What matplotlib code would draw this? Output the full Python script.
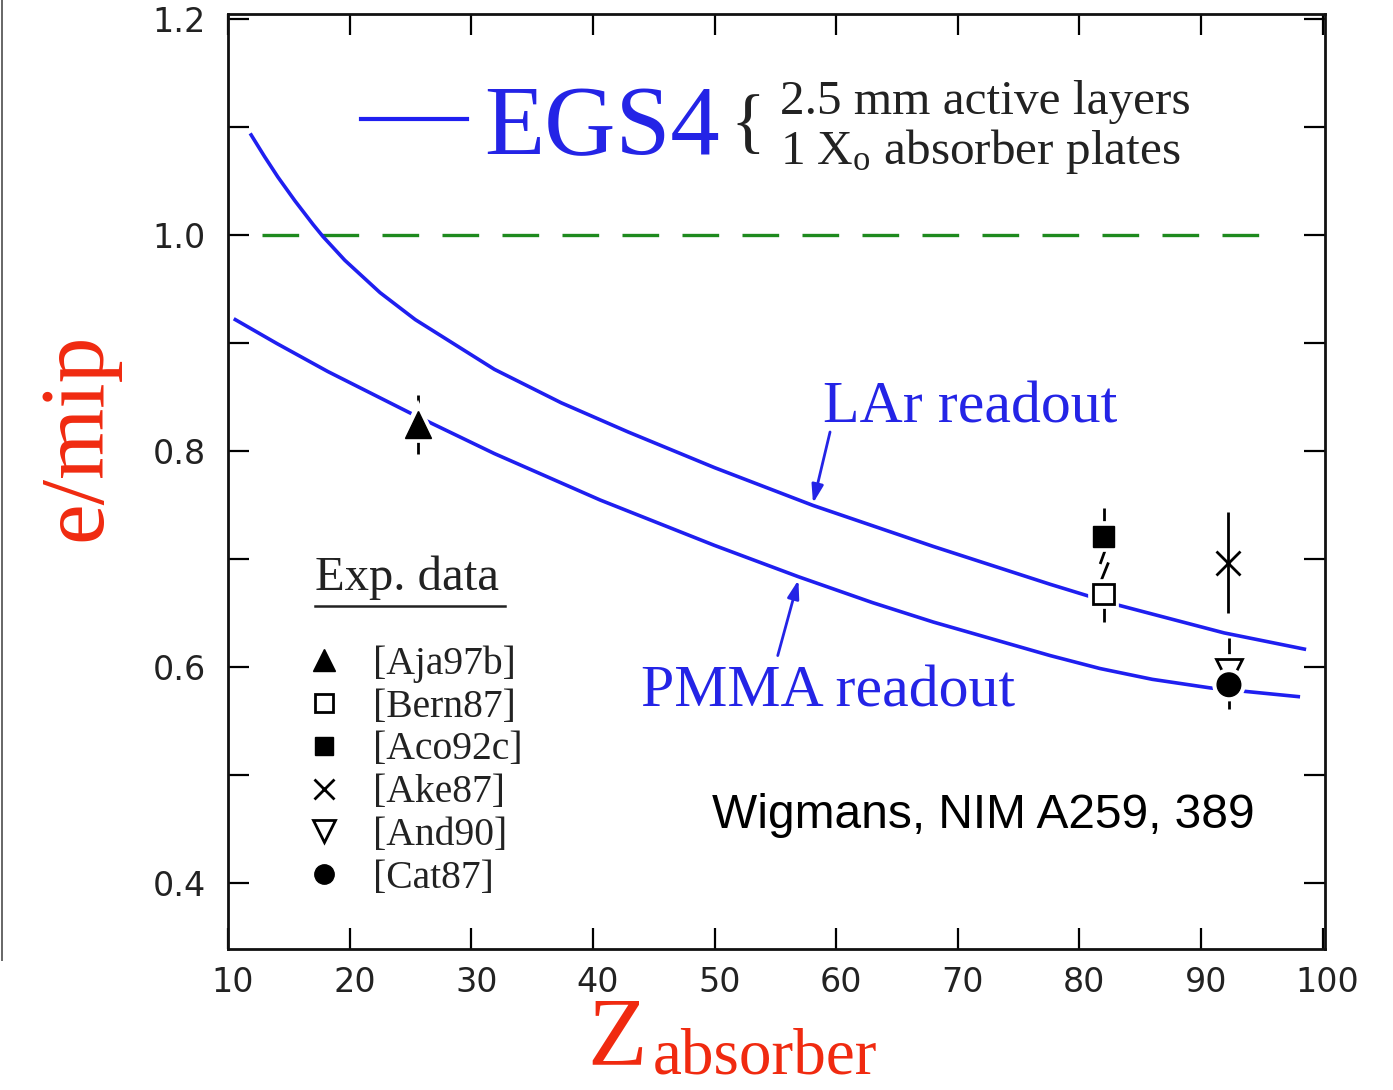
import numpy as np
import matplotlib as mpl
mpl.use('Agg')
from matplotlib import pyplot as plt
from matplotlib.lines import Line2D
from matplotlib.transforms import ScaledTranslation
import matplotlib.patheffects as pe

# EGS4 curves
lar_z = [11.9, 13.0, 14.1, 15.5, 17.0, 17.8, 19.6, 22.5, 25.4, 31.9, 37.4, 42.9, 50.0, 58.1, 68.0, 77.6, 83.1, 91.9, 98.5]
lar_emip = [1.093, 1.073, 1.054, 1.032, 1.010, 0.999, 0.977, 0.947, 0.922, 0.876, 0.845, 0.818, 0.785, 0.750, 0.712, 0.677, 0.658, 0.632, 0.617]
pmma_z = [10.6, 14.0, 18.2, 24.9, 31.9, 40.6, 50.0, 56.9, 63.0, 68.0, 77.6, 81.7, 86.0, 90.8, 98.0]
pmma_emip = [0.922, 0.900, 0.874, 0.836, 0.798, 0.755, 0.713, 0.684, 0.660, 0.642, 0.611, 0.599, 0.589, 0.581, 0.573]

# reference line e/mip = 1
ref_z = [12.8, 96.6]
ref_emip = [1.0, 1.0]

# experimental points
exp_labels = ["[Aja97b]", "[Bern87]", "[Aco92c]", "[Ake87]", "[And90]", "[Cat87]"]
exp_z = [25.6, 82.0, 82.0, 92.2, 92.3, 92.3]
exp_emip = [0.825, 0.668, 0.721, 0.697, 0.596, 0.584]
err_lo = [0.027, 0.026, 0.0, 0.047, 0.0, 0.022]
err_hi = [0.027, 0.0, 0.027, 0.047, 0.031, 0.0]

# broken error bar marks between Aco92c and Bern87
break_z = [[81.75, 82.2], [81.85, 82.35]]
break_emip = [[0.697, 0.711], [0.682, 0.696]]

# arrows for the curve labels (tail, tip)
lar_arrow = [(59.5, 0.818), (58.1, 0.752)]
pmma_arrow = [(55.2, 0.611), (56.9, 0.681)]

BLUE = "#1f1ff0"
TEXT_BLUE = "#2424e6"
RED = "#f02a10"
GREEN = "#1e8a1e"
SERIF = "Liberation Serif"

plt.rcParams['mathtext.fontset'] = 'custom'
plt.rcParams['mathtext.rm'] = SERIF
plt.rcParams['mathtext.it'] = SERIF + ':italic'

fig = plt.figure(figsize=(13.93, 10.90), dpi=100)
ax = fig.add_axes([0.1637, 0.1294, 0.7875, 0.8578])

ax.plot(lar_z, lar_emip, color=BLUE, lw=2.6, zorder=2)
ax.plot(pmma_z, pmma_emip, color=BLUE, lw=2.6, zorder=2)
ax.plot(ref_z, ref_emip, color=GREEN, lw=2.4, dashes=(11, 7), zorder=1)

# markers
styles = [
    dict(marker='^', ms=19, mfc='black', mec='black'),
    dict(marker='s', ms=15, mfc='white', mec='black', mew=2),
    dict(marker='s', ms=15, mfc='black', mec='black'),
    dict(marker='x', ms=17, mfc='black', mec='black', mew=2),
    dict(marker='v', ms=19, mfc='white', mec='black', mew=2),
    dict(marker='o', ms=17, mfc='black', mec='black'),
]
halo = [pe.Stroke(linewidth=7, foreground='white'), pe.Normal()]
for i in range(len(exp_z)):
    cont = ax.errorbar([exp_z[i]], [exp_emip[i]], yerr=[[err_lo[i]], [err_hi[i]]],
                       color='black', elinewidth=2, capsize=0, linestyle='none', zorder=4, **styles[i])
    if styles[i]['marker'] != 'x':
        cont.lines[0].set_path_effects(halo)
for bz, be in zip(break_z, break_emip):
    ax.plot(bz, be, color='black', lw=2, zorder=4)

ax.set_xlim(10, 100.2)
ax.set_ylim(0.3394, 1.205)
ax.set_xticks(np.arange(10, 101, 10))
yt = np.round(np.arange(0.4, 1.21, 0.1), 1)
ax.set_yticks(yt)
ax.set_yticklabels([f"{v:.1f}" if round(v * 10) % 2 == 0 else "" for v in yt])
ax.tick_params(direction='in', length=15, width=1.6, top=True, right=True,
               labelsize=24, labelcolor='#222222', pad=12)
ax.tick_params(axis='y', pad=16)
shift = ScaledTranslation(5 / 100, 0, fig.dpi_scale_trans)
for lab in ax.get_xticklabels():
    lab.set_transform(lab.get_transform() + shift)
for s in ax.spines.values():
    s.set_linewidth(2.0)
    s.set_color('#111111')

# EGS4 key
egs = ax.legend(handles=[Line2D([], [], color=BLUE, lw=3)], labels=["EGS4"],
                loc='center left', bbox_to_anchor=(0.121, 0.876), frameon=False,
                prop={'family': SERIF, 'size': 71}, labelcolor=TEXT_BLUE,
                handlelength=1.08, handletextpad=0.17, borderpad=0, borderaxespad=0)
ax.add_artist(egs)
ax.text(0.474, 0.880, "{", transform=ax.transAxes, family=SERIF, size=52,
        color='#222222', ha='center', va='center')
ax.text(0.503, 0.878, "2.5 mm active layers\n1 X$_\\mathrm{o}$ absorber plates", transform=ax.transAxes,
        family=SERIF, size=35.5, color='#222222', ha='left', va='center', linespacing=1.1)

# curve labels
ax.text(71.0, 0.827, "LAr readout", family=SERIF, size=43, color=TEXT_BLUE, ha='center', va='baseline')
ax.text(59.3, 0.564, "PMMA readout", family=SERIF, size=43, color=TEXT_BLUE, ha='center', va='baseline')
for tail, tip in (lar_arrow, pmma_arrow):
    ax.annotate("", xy=tip, xytext=tail,
                arrowprops=dict(arrowstyle='-|>,head_length=1.1,head_width=0.35', color=TEXT_BLUE,
                                lw=2, shrinkA=0, shrinkB=0))

# experimental data key
ax.text(0.0793, 0.384, "Exp. data", transform=ax.transAxes, family=SERIF, size=35,
        color='#222222', ha='left', va='baseline')
ax.plot([0.0793, 0.2525], [0.367, 0.367], transform=ax.transAxes, color='#222222', lw=1.8)
handles = [Line2D([], [], linestyle='none', color='black',
                  **{**st, 'ms': st['ms'] * 0.82}) for st in styles]
ax.legend(handles=handles, labels=exp_labels, loc='upper left', bbox_to_anchor=(0.068, 0.325),
          frameon=False, prop={'family': SERIF, 'size': 28.5}, labelcolor='#222222',
          handlelength=1.1, handletextpad=0.68, labelspacing=0.15, borderpad=0, borderaxespad=0)

ax.text(49.8, 0.4514, "Wigmans, NIM A259, 389", family="Liberation Sans", size=34.5,
        color='black', ha='left', va='baseline')

# axis titles
fig.text(78 / 1393, 1 - 437 / 1090, "e/mip", rotation=90, family=SERIF, size=66, color=RED,
         ha='center', va='center')
fig.text(587 / 1393, 1 - 1064 / 1090, "Z", family=SERIF, size=70, color=RED,
         ha='left', va='baseline')
fig.text(653 / 1393, 1 - 1073 / 1090, "absorber", family=SERIF, size=47, color=RED,
         ha='left', va='baseline')

fig.add_artist(Line2D([0.0015, 0.0015], [1 - 960 / 1090, 1.0], transform=fig.transFigure,
                      color='#666666', lw=1.4))

fig.savefig("out.png", dpi=100, facecolor='white')
